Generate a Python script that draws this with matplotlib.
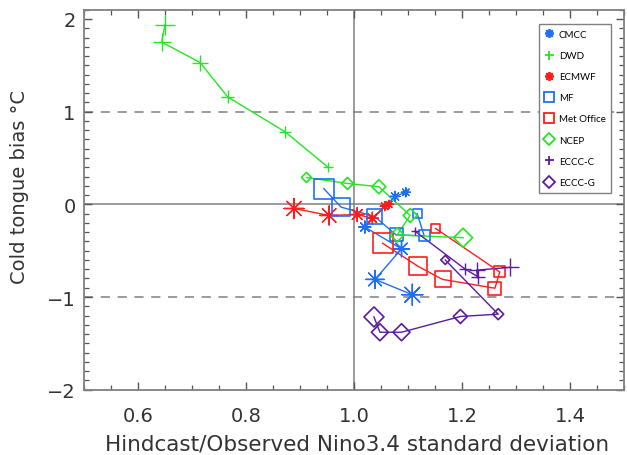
import matplotlib
matplotlib.use("Agg")
import matplotlib.pyplot as plt
from matplotlib.lines import Line2D
from matplotlib.ticker import MultipleLocator

# ---------------- data ----------------
cmcc_x = [1.096, 1.076, 1.020, 1.088, 1.039, 1.108]
cmcc_y = [0.13, 0.085, -0.245, -0.48, -0.81, -0.975]
cmcc_size = [9, 10, 12, 16, 18, 21]

dwd_x = [0.650, 0.644, 0.715, 0.766, 0.873, 0.952]
dwd_y = [1.94, 1.75, 1.53, 1.16, 0.78, 0.40]
dwd_size = [20, 18, 16, 13, 12, 10]

ecmwf_x = [0.889, 0.954, 1.006, 1.034, 1.057, 1.065]
ecmwf_y = [-0.045, -0.12, -0.11, -0.15, -0.02, 0.00]
ecmwf_size = [20, 19, 14, 12, 9, 8]

mf_x = [0.944, 0.976, 1.038, 1.078, 1.130, 1.117]
mf_y = [0.17, -0.03, -0.13, -0.33, -0.34, -0.10]
mf_size = [20, 18, 15, 13, 11, 9]

metoffice_x = [1.151, 1.270, 1.261, 1.164, 1.119, 1.053]
metoffice_y = [-0.26, -0.73, -0.905, -0.81, -0.67, -0.42]
metoffice_size = [9, 11, 13, 16, 18, 20]

ncep_x = [0.912, 0.988, 1.046, 1.104, 1.080, 1.202]
ncep_y = [0.29, 0.225, 0.19, -0.12, -0.33, -0.36]
ncep_size = [10, 12, 14, 14, 14, 19]

eccc_c_x = [1.113, 1.206, 1.229, 1.227, 1.289]
eccc_c_y = [-0.29, -0.70, -0.78, -0.71, -0.68]
eccc_c_size = [8, 12, 14, 16, 18]

eccc_g_x = [1.169, 1.267, 1.197, 1.088, 1.048, 1.037]
eccc_g_y = [-0.60, -1.185, -1.21, -1.38, -1.38, -1.215]
eccc_g_size = [9, 11, 14, 17, 17, 20]

labels = ["CMCC", "DWD", "ECMWF", "MF", "Met Office", "NCEP", "ECCC-C", "ECCC-G"]

x_ticks = [0.6, 0.8, 1.0, 1.2, 1.4]
y_ticks = [-2, -1, 0, 1, 2]

# ---------------- styles ----------------
BLUE = "#1f6ff5"
GREEN = "#22e622"
RED = "#ff1c1c"
PURPLE = "#5a1c9c"
GRAY = "#808080"
ASTER = (8, 2, 0)

series = [
    (cmcc_x, cmcc_y, cmcc_size, BLUE, ASTER, 1.0),
    (dwd_x, dwd_y, dwd_size, GREEN, "+", 1.0),
    (ecmwf_x, ecmwf_y, ecmwf_size, RED, ASTER, 1.0),
    (mf_x, mf_y, mf_size, BLUE, "s", 1.0),
    (metoffice_x, metoffice_y, metoffice_size, RED, "s", 1.0),
    (ncep_x, ncep_y, ncep_size, GREEN, "D", 1.414),
    (eccc_c_x, eccc_c_y, eccc_c_size, PURPLE, "+", 1.0),
    (eccc_g_x, eccc_g_y, eccc_g_size, PURPLE, "D", 1.414),
]

DPI = 100
fig = plt.figure(figsize=(6.27, 4.56), dpi=DPI)
W, H = 627, 456
L, R, T, B = 84, 624, 10.7, 390.7
ax = fig.add_axes([L / W, 1 - B / H, (R - L) / W, (B - T) / H])

ax.set_xlim(0.5, 1.5)
ax.set_ylim(-2, 2.1)

# reference lines
ax.axvline(1.0, color=GRAY, lw=1.1, zorder=1)
ax.axhline(0.0, color=GRAY, lw=1.1, zorder=1)
for yv in (1, -1):
    ax.axhline(yv, color=GRAY, lw=1.1, ls=(0, (6, 5)), zorder=1)

def px2pt(px):
    return px * 72.0 / DPI

handles = []
for (xs, ys, sz, col, mk, fac), lab in zip(series, labels):
    ax.plot(xs, ys, color=col, lw=1.0, zorder=2)
    ms = [px2pt(s) / fac for s in sz]
    filled = mk not in ("s", "D")
    ax.scatter(xs, ys, s=[m ** 2 for m in ms], marker=mk,
               facecolors=(col if filled else "none"), edgecolors=col,
               linewidths=(1.0 if filled else 1.2), zorder=3)
    lpx = {"s": 10, "D": 12, "+": 9}.get(mk, 9) if not isinstance(mk, tuple) else 9
    handles.append(Line2D([], [], ls="none", marker=mk, color=col,
                          markerfacecolor="none", markeredgecolor=col,
                          markeredgewidth=1.3, markersize=px2pt(lpx) / fac))

# axes styling
for sp in ax.spines.values():
    sp.set_color(GRAY)
    sp.set_linewidth(1.3)
ax.xaxis.set_major_locator(MultipleLocator(0.2))
ax.xaxis.set_minor_locator(MultipleLocator(0.05))
ax.yaxis.set_major_locator(MultipleLocator(1))
ax.yaxis.set_minor_locator(MultipleLocator(0.1))
ax.set_xticks(x_ticks)
ax.set_yticks(y_ticks)
ax.set_xticklabels([f"{v:.1f}" for v in x_ticks])
ax.set_yticklabels([("\u2212" + str(abs(v))) if v < 0 else str(v) for v in y_ticks])
ax.tick_params(which="both", direction="in", top=True, right=True, color="#555555")
ax.tick_params(which="major", length=6, width=1.0, labelsize=14, labelcolor="#333333")
ax.tick_params(axis="x", which="major", pad=12)
ax.tick_params(axis="y", which="major", pad=6)
ax.tick_params(which="minor", length=3.5, width=0.9)

ax.set_xlabel("Hindcast/Observed Nino3.4 standard deviation", fontsize=15.5, color="#333333")
ax.set_ylabel("Cold tongue bias \u00b0C", fontsize=14, color="#333333")
ax.xaxis.set_label_coords(0.505, -0.115)
ax.yaxis.set_label_coords(-0.102, 0.536)

leg = ax.legend(handles, labels, loc="upper left",
                bbox_to_anchor=(538.7 / W, 1 - 25 / H), bbox_transform=fig.transFigure,
                borderaxespad=0, fancybox=False, framealpha=1, edgecolor=GRAY,
                prop={"family": "Lato", "size": 7}, handlelength=1.0,
                handletextpad=0.45, borderpad=0.6, labelspacing=1.25)
leg.get_frame().set_linewidth(1.0)
leg.set_zorder(5)

fig.savefig("out.png", dpi=DPI)
